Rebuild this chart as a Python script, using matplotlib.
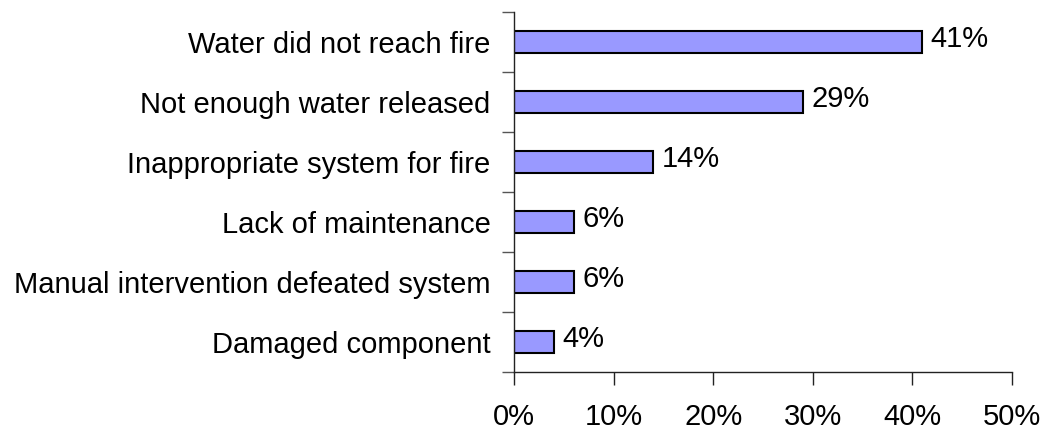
import matplotlib
matplotlib.use("Agg")
import matplotlib.pyplot as plt
from matplotlib.ticker import FuncFormatter, FixedLocator

plt.rcParams['font.family'] = ['Liberation Sans', 'DejaVu Sans']

causes = [
    "Water did not reach fire",
    "Not enough water released",
    "Inappropriate system for fire",
    "Lack of maintenance",
    "Manual intervention defeated system",
    "Damaged component",
]
shares = [41, 29, 14, 6, 6, 4]
x_ticks = [0, 10, 20, 30, 40, 50]

FS = 21

fig = plt.figure(figsize=(10.45, 4.29), dpi=100)
ax = fig.add_axes([0.4919, 0.1329, 0.4765, 0.8392])

n = len(causes)
ypos = list(range(n - 1, -1, -1))
ax.barh(ypos, shares, height=0.37, color="#9999FF", edgecolor="black", linewidth=1.5)

for y, v in zip(ypos, shares):
    ax.annotate(f"{v}%", xy=(v, y), xytext=(6, 2), textcoords="offset points",
                ha="left", va="center", fontsize=FS)

ax.set_xlim(0, 50)
ax.set_ylim(-0.5, n - 0.5)
ax.xaxis.set_major_locator(FixedLocator(x_ticks))
ax.xaxis.set_major_formatter(FuncFormatter(lambda v, p: f"{v:.0f}%"))

# category labels sit between the separator ticks
ax.set_yticks([y - 0.5 for y in range(n + 1)])
ax.set_yticklabels([])
ax.set_yticks(ypos, minor=True)
ax.set_yticklabels(causes, minor=True, fontsize=FS)
ax.tick_params(axis="y", which="minor", length=0, pad=17)
ax.tick_params(axis="y", which="major", length=9, width=1, color="#555555")
ax.tick_params(axis="x", length=9, width=1, pad=13, labelsize=FS, color="#222222")

for side in ("top", "right"):
    ax.spines[side].set_visible(False)
for side in ("left", "bottom"):
    ax.spines[side].set_color("#222222")
    ax.spines[side].set_linewidth(1)

fig.savefig("out.png", dpi=100)
